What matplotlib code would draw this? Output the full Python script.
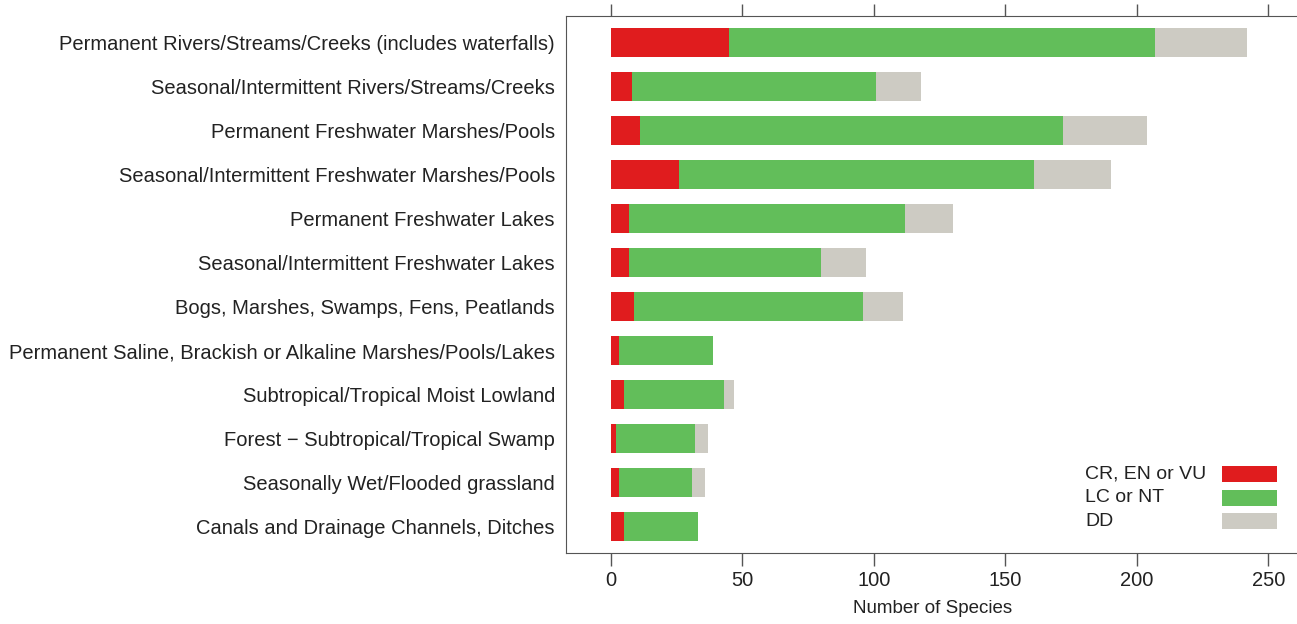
import numpy as np
import matplotlib.pyplot as plt
from matplotlib.patches import Rectangle

# habitat categories, top to bottom
habitats = [
    'Permanent Rivers/Streams/Creeks (includes waterfalls)',
    'Seasonal/Intermittent Rivers/Streams/Creeks',
    'Permanent Freshwater Marshes/Pools',
    'Seasonal/Intermittent Freshwater Marshes/Pools',
    'Permanent Freshwater Lakes',
    'Seasonal/Intermittent Freshwater Lakes',
    'Bogs, Marshes, Swamps, Fens, Peatlands',
    'Permanent Saline, Brackish or Alkaline Marshes/Pools/Lakes',
    'Subtropical/Tropical Moist Lowland',
    'Forest \u2212 Subtropical/Tropical Swamp',
    'Seasonally Wet/Flooded grassland',
    'Canals and Drainage Channels, Ditches',
]
threatened = [45, 8, 11, 26, 7, 7, 9, 3, 5, 2, 3, 5]      # CR, EN or VU
not_threat = [162, 93, 161, 135, 105, 73, 87, 36, 38, 30, 28, 28]  # LC or NT
data_def = [35, 17, 32, 29, 18, 17, 15, 0, 4, 5, 5, 0]    # DD

series_names = ['CR, EN or VU', 'LC or NT', 'DD']
colors = ['#e01c1e', '#62be5a', '#cdcbc3']

plt.rcParams['font.family'] = ['Liberation Sans', 'DejaVu Sans']

fig = plt.figure(figsize=(12.97, 6.24), dpi=100)
W, H = 1297, 624
ax = fig.add_axes([566 / W, 1 - 553 / H, (1300 - 566) / W, (553 - 16) / H])

y = np.arange(len(habitats))
cr = np.array(threatened)
lc = np.array(not_threat)
dd = np.array(data_def)
bh = 0.66
ax.barh(y, cr, height=bh, color=colors[0], linewidth=0)
ax.barh(y, lc, left=cr, height=bh, color=colors[1], linewidth=0)
ax.barh(y, dd, left=cr + lc, height=bh, color=colors[2], linewidth=0)

ax.set_ylim(len(habitats) - 0.4, -0.61)
ax.set_xlim(-17, 262)
ax.set_yticks(y)
ax.set_yticklabels(habitats, fontsize=14.5, color='#222222')
ax.set_xticks([0, 50, 100, 150, 200, 250])
ax.tick_params(axis='x', labelsize=14.5, length=9, width=1, color='#555555',
               top=True, labelcolor='#222222', pad=4)
ax.tick_params(axis='y', length=0, pad=8)
ax.set_xlabel('Number of Species', fontsize=13.5, color='#222222', labelpad=7)
for s in ['left', 'bottom', 'top']:
    ax.spines[s].set_color('#555555')
ax.spines['right'].set_visible(False)

# legend: labels left, colour boxes right
for i, (name, c) in enumerate(zip(series_names, colors)):
    yc = 474 + i * 23.5
    fig.text(1085 / W, 1 - yc / H, name, fontsize=14, color='#222222',
             ha='left', va='center')
    fig.patches.append(Rectangle((1222 / W, 1 - (yc + 8) / H), 55 / W, 16 / H,
                                 transform=fig.transFigure, color=c, lw=0))

fig.savefig('out.png', dpi=100)
